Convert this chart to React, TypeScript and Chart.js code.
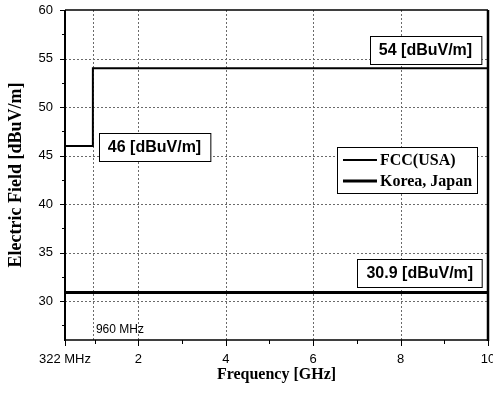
import React, { useEffect, useRef } from "react";
import { Chart, registerables } from "chart.js";

Chart.register(...registerables);

// ---- data ----
const FREQ_FCC = [0.322, 0.96, 10];
const FCC_LIMIT = [46, 54, 54];
const FREQ_KJ = [0.322, 10];
const KJ_LIMIT = [30.9, 30.9];
const SERIES_NAMES = ["FCC(USA)", "Korea, Japan"];

const X_TICKS = [0.322, 2, 4, 6, 8, 10];
const X_MINOR = [1, 3, 5, 7, 9];
const X_GRID = [0.96, 2, 4, 6, 8];
const Y_TICKS = [30, 35, 40, 45, 50, 55, 60];
const Y_MINOR = [27.5, 32.5, 37.5, 42.5, 47.5, 52.5, 57.5];
const Y_GRID = [30, 35, 40, 45, 50, 55];

const NOTE_TEXT = ["54 [dBuV/m]", "46 [dBuV/m]", "30.9 [dBuV/m]"];
const NOTE_X = [8.57, 2.37, 8.44];
const NOTE_Y = [55.9, 45.88, 32.95];

const SANS = "'Liberation Sans', Arial, sans-serif";
const SERIF = "'Liberation Serif', 'Times New Roman', serif";

const decorPlugin = {
  id: "decor",
  beforeDatasetsDraw(chart: any) {
    const { ctx, chartArea: a, scales } = chart;
    const xs = scales.x, ys = scales.y;
    ctx.save();
    ctx.strokeStyle = "#6a6a6a";
    ctx.lineWidth = 1;
    ctx.setLineDash([2, 2]);
    for (const v of Y_GRID) {
      const y = Math.round(ys.getPixelForValue(v)) + 0.5;
      ctx.beginPath();
      ctx.moveTo(a.left, y);
      ctx.lineTo(a.right, y);
      ctx.stroke();
    }
    for (const v of X_GRID) {
      const x = Math.round(xs.getPixelForValue(v)) + 0.5;
      ctx.beginPath();
      ctx.moveTo(x, a.top);
      ctx.lineTo(x, a.bottom);
      ctx.stroke();
    }
    ctx.restore();
  },
  afterDatasetsDraw(chart: any) {
    const { ctx, chartArea: a, scales } = chart;
    const xs = scales.x, ys = scales.y;
    ctx.save();
    ctx.setLineDash([]);
    ctx.strokeStyle = "#000";
    // frame
    ctx.lineWidth = 1.5;
    ctx.beginPath();
    ctx.moveTo(a.left, a.top);
    ctx.lineTo(a.right, a.top);
    ctx.moveTo(a.left, a.bottom);
    ctx.lineTo(a.right, a.bottom);
    ctx.stroke();
    ctx.lineWidth = 2;
    ctx.beginPath();
    ctx.moveTo(a.left, a.top);
    ctx.lineTo(a.left, a.bottom + 1);
    ctx.stroke();
    ctx.lineWidth = 2.5;
    ctx.beginPath();
    ctx.moveTo(a.right, a.top);
    ctx.lineTo(a.right, a.bottom + 1);
    ctx.stroke();
    // tick marks
    ctx.lineWidth = 1;
    ctx.beginPath();
    for (const v of Y_TICKS) {
      const y = Math.round(ys.getPixelForValue(v)) + 0.5;
      ctx.moveTo(a.left - 5, y);
      ctx.lineTo(a.left, y);
    }
    for (const v of Y_MINOR) {
      const y = Math.round(ys.getPixelForValue(v)) + 0.5;
      ctx.moveTo(a.left - 3, y);
      ctx.lineTo(a.left, y);
    }
    for (const v of X_TICKS) {
      const x = Math.round(xs.getPixelForValue(v)) + 0.5;
      ctx.moveTo(x, a.bottom);
      ctx.lineTo(x, a.bottom + 6);
    }
    for (const v of X_MINOR) {
      const x = Math.round(xs.getPixelForValue(v)) + 0.5;
      ctx.moveTo(x, a.bottom);
      ctx.lineTo(x, a.bottom + 4);
    }
    ctx.stroke();

    // value notes
    ctx.font = `bold 16px ${SANS}`;
    ctx.textBaseline = "middle";
    ctx.textAlign = "center";
    NOTE_TEXT.forEach((t, i) => {
      const cx = xs.getPixelForValue(NOTE_X[i]);
      const cy = ys.getPixelForValue(NOTE_Y[i]);
      const w = ctx.measureText(t).width + 18;
      const h = 28;
      const l = Math.round(cx - w / 2) + 0.5;
      const tp = Math.round(cy - h / 2) + 0.5;
      ctx.fillStyle = "#fff";
      ctx.fillRect(l, tp, w, h);
      ctx.strokeStyle = "#000";
      ctx.lineWidth = 1;
      ctx.strokeRect(l, tp, w, h);
      ctx.fillStyle = "#000";
      ctx.fillText(t, cx, cy + 1);
    });

    // 960 MHz marker text
    ctx.font = `12px ${SANS}`;
    ctx.textAlign = "left";
    ctx.fillText("960 MHz", xs.getPixelForValue(0.96) + 3, ys.getPixelForValue(27.1));

    // legend
    const lx = xs.getPixelForValue(6.545);
    const ly = ys.getPixelForValue(45.88);
    const lw = 140, lh = 46;
    ctx.fillStyle = "#fff";
    ctx.fillRect(Math.round(lx) + 0.5, Math.round(ly) + 0.5, lw, lh);
    ctx.strokeStyle = "#000";
    ctx.lineWidth = 1;
    ctx.strokeRect(Math.round(lx) + 0.5, Math.round(ly) + 0.5, lw, lh);
    const widths = [2, 3];
    SERIES_NAMES.forEach((n, i) => {
      const yy = ly + 13 + i * 21;
      ctx.lineWidth = widths[i];
      ctx.beginPath();
      ctx.moveTo(lx + 6, yy);
      ctx.lineTo(lx + 40, yy);
      ctx.stroke();
      ctx.fillStyle = "#000";
      ctx.font = `bold 16px ${SERIF}`;
      ctx.textBaseline = "middle";
      ctx.textAlign = "left";
      ctx.fillText(n, lx + 43, yy + 1);
    });

    // axis titles
    ctx.fillStyle = "#000";
    ctx.font = `bold 16px ${SERIF}`;
    ctx.textAlign = "center";
    ctx.textBaseline = "alphabetic";
    ctx.fillText("Frequency [GHz]", (a.left + a.right) / 2, 379);
    ctx.save();
    ctx.translate(21, (a.top + a.bottom) / 2);
    ctx.rotate(-Math.PI / 2);
    ctx.font = `bold 18px ${SERIF}`;
    ctx.fillText("Electric Field [dBuV/m]", 0, 0);
    ctx.restore();
    ctx.restore();
  },
};

export default function App() {
  const ref = useRef<HTMLCanvasElement>(null);
  useEffect(() => {
    if (!ref.current) return;
    const chart = new Chart(ref.current, {
      type: "line",
      data: {
        datasets: [
          {
            label: SERIES_NAMES[0],
            data: FREQ_FCC.map((x, i) => ({ x, y: FCC_LIMIT[i] })),
            borderColor: "#000",
            borderWidth: 2,
            pointRadius: 0,
            stepped: true,
            fill: false,
          },
          {
            label: SERIES_NAMES[1],
            data: FREQ_KJ.map((x, i) => ({ x, y: KJ_LIMIT[i] })),
            borderColor: "#000",
            borderWidth: 3,
            pointRadius: 0,
            fill: false,
          },
        ],
      },
      plugins: [decorPlugin],
      options: {
        animation: false,
        responsive: true,
        maintainAspectRatio: false,
        layout: { padding: { top: 10, right: 5, left: 0, bottom: 0 } },
        plugins: { legend: { display: false }, tooltip: { enabled: false } },
        scales: {
          x: {
            type: "linear",
            min: 0.322,
            max: 10,
            grid: { display: false, drawTicks: false },
            border: { display: false },
            afterBuildTicks: (s: any) => {
              s.ticks = X_TICKS.map((v) => ({ value: v }));
            },
            afterFit: (s: any) => {
              s.height = 53;
              s.paddingLeft = 0;
              s.paddingRight = 0;
            },
            ticks: {
              autoSkip: false,
              maxRotation: 0,
              padding: 12,
              color: "#000",
              font: { family: SANS, size: 13 },
              callback: (v: any) => (v === 0.322 ? "322 MHz" : String(v)),
            },
          },
          y: {
            type: "linear",
            min: 26,
            max: 60,
            grid: { display: false, drawTicks: false },
            border: { display: false },
            afterBuildTicks: (s: any) => {
              s.ticks = Y_TICKS.map((v) => ({ value: v }));
            },
            afterFit: (s: any) => {
              s.width = 65;
              s.paddingTop = 0;
              s.paddingBottom = 0;
            },
            ticks: {
              autoSkip: false,
              padding: 12,
              color: "#000",
              font: { family: SANS, size: 13 },
              callback: (v: any) => String(v),
            },
          },
        },
      },
    });
    return () => chart.destroy();
  }, []);
  return (
    <div style={{ position: "fixed", left: 0, top: 0, width: 493, height: 393, background: "#fff" }}>
      <canvas ref={ref} />
    </div>
  );
}
